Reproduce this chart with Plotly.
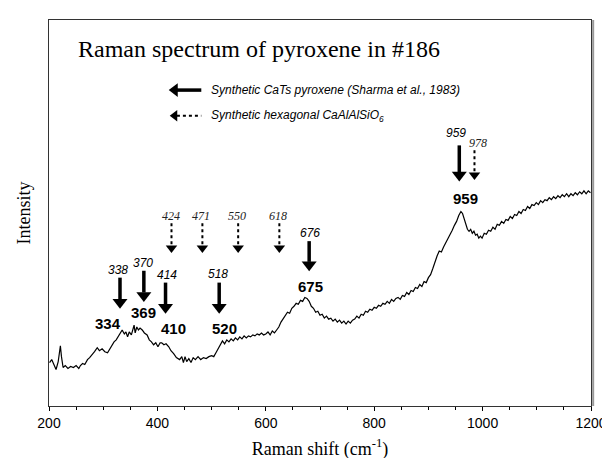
import plotly.graph_objects as go

# ---- spectrum (Raman shift cm-1, relative intensity), read in segments ----
shift_a = [201, 205, 209, 213, 217, 219, 221, 223, 226, 230, 235, 240, 245, 250, 255, 258, 262, 266, 271, 275,
           280, 284, 289, 293, 298, 303, 308, 312, 316, 320, 324, 328, 332, 335, 339, 342, 345, 348, 352, 355,
           357, 359, 362, 365, 368, 372, 376, 381, 385, 389, 393, 397, 401, 405, 408, 412, 416, 421, 425, 430,
           435, 441, 445, 448, 451, 454, 458, 462, 466, 470, 475, 480, 485, 490, 495]
int_a = [44, 47, 42, 37, 45, 52, 61, 50, 39, 41, 38, 40, 39, 41, 38, 41, 43, 42, 47, 49,
         52, 55, 59, 56, 58, 55, 54, 58, 62, 65, 67, 71, 74, 77, 73, 75, 70, 75, 72, 78,
         82, 74, 80, 77, 79, 77, 74, 72, 67, 65, 62, 64, 60, 64, 64, 62, 63, 60, 56, 53,
         49, 47, 50, 44, 50, 45, 48, 44, 49, 47, 50, 47, 49, 48, 50]

shift_b = [500, 504, 508, 512, 516, 520, 524, 528, 532, 536, 540, 544, 548, 552, 556, 560, 564, 568, 572, 576,
           580, 584, 588, 592, 596]
int_b = [51, 50, 54, 58, 62, 66, 63, 67, 65, 68, 66, 69, 67, 70, 68, 71, 69, 71, 70, 72,
         71, 73, 72, 74, 72]

shift_c = [600, 604, 608, 612, 616, 620, 624, 628, 632, 636, 640, 644, 648, 652, 656, 660, 664, 668, 672, 676,
           680, 684, 688, 692, 696, 700, 704, 708, 712, 716, 720, 724, 728, 732, 736, 740, 744, 748, 752, 756,
           760, 764, 768, 772, 776, 780, 784, 788, 792, 796, 800, 804, 808, 812, 816, 820, 824, 828, 832, 836,
           840, 844, 848, 852, 856, 860, 864, 868, 872, 876, 880, 884, 888, 892, 896]
int_c = [73, 75, 72, 76, 74, 77, 80, 85, 88, 92, 95, 94, 99, 101, 104, 103, 107, 106, 110, 109,
         106, 101, 99, 95, 96, 92, 93, 89, 91, 88, 89, 86, 88, 85, 87, 84, 86, 83, 86, 84,
         87, 88, 91, 89, 93, 92, 96, 95, 98, 97, 100, 99, 102, 101, 104, 103, 106, 104, 108, 106,
         109, 110, 108, 112, 111, 115, 113, 117, 116, 120, 119, 123, 121, 126, 125]

shift_d = [900, 904, 908, 912, 916, 920, 924, 928, 932, 936, 940, 944, 948, 952, 956, 960, 963, 966, 969, 972,
           975, 978, 981, 984, 987, 990, 993, 996, 999, 1003, 1007, 1011, 1015, 1019, 1023, 1027, 1031, 1035,
           1039, 1043, 1047, 1051, 1055, 1059, 1063, 1067, 1071, 1075, 1079, 1083, 1087, 1091, 1095, 1099,
           1103, 1107, 1111, 1115, 1119, 1123, 1127, 1131, 1135, 1139, 1143, 1147, 1151, 1155, 1159, 1163,
           1167, 1171, 1175, 1179, 1183, 1187, 1191, 1195, 1199]
int_d = [130, 133, 139, 146, 152, 157, 156, 161, 165, 169, 174, 178, 183, 187, 193, 197, 195, 189, 184, 179,
         177, 179, 175, 177, 173, 174, 170, 172, 170, 175, 174, 178, 177, 181, 179, 184, 183, 187,
         185, 189, 188, 192, 190, 194, 193, 197, 195, 199, 198, 202, 200, 204, 203, 206,
         204, 208, 206, 209, 208, 211, 209, 212, 210, 213, 211, 214, 212, 215, 212, 215,
         213, 216, 214, 217, 215, 218, 215, 218, 216]

shift = shift_a + shift_b + shift_c + shift_d
intensity = int_a + int_b + int_c + int_d

# ---- reference band assignments ----
cats_labels = ["338", "370", "414", "518", "676", "959"]          # Synthetic CaTs pyroxene
cats_pos = [331, 375, 415, 514, 680, 957]
cats_top = [130, 137, 125, 125, 167, 264]
cats_tip = [100, 107, 95, 95, 138, 229]
cats_lab_x = [327, 373, 418, 512, 682, 950]
cats_lab_y = [138, 145, 133, 134, 175, 277]

hex_labels = ["424", "471", "550", "618", "978"]                   # Synthetic hexagonal CaAlAlSiO6
hex_pos = [426, 483, 549, 625, 985]
hex_top = [185, 185, 185, 185, 259]
hex_tip = [156, 156, 156, 156, 230]
hex_lab_x = [425, 480, 547, 623, 991]
hex_lab_y = [192, 192, 192, 192, 266]

peak_labels = ["334", "369", "410", "520", "675", "959"]          # observed peaks
peak_x = [308, 375, 430, 523, 682, 968]
peak_y = [84, 95, 79, 79, 121, 210]

fig = go.Figure()

fig.add_trace(go.Scatter(x=shift, y=intensity, mode="lines",
                         line=dict(color="black", width=1.2), hoverinfo="skip"))

# solid arrows
for x, t, b in zip(cats_pos, cats_top, cats_tip):
    fig.add_trace(go.Scatter(x=[x, x], y=[t, b + 8], mode="lines",
                             line=dict(color="black", width=3.5)))
    fig.add_trace(go.Scatter(x=[x], y=[b + 5], mode="markers",
                             marker=dict(symbol="triangle-down", size=13, color="black")))
# dotted arrows
for x, t, b in zip(hex_pos, hex_top, hex_tip):
    fig.add_trace(go.Scatter(x=[x, x], y=[t, b + 6], mode="lines",
                             line=dict(color="black", width=2, dash="dot")))
    fig.add_trace(go.Scatter(x=[x], y=[b + 4], mode="markers",
                             marker=dict(symbol="triangle-down", size=10, color="black")))

# legend arrows
fig.add_trace(go.Scatter(x=[436, 481], y=[320, 320], mode="lines",
                         line=dict(color="black", width=3.5)))
fig.add_trace(go.Scatter(x=[432], y=[320], mode="markers",
                         marker=dict(symbol="triangle-left", size=12, color="black")))
fig.add_trace(go.Scatter(x=[436, 481], y=[294, 294], mode="lines",
                         line=dict(color="black", width=2, dash="dot")))
fig.add_trace(go.Scatter(x=[432], y=[294], mode="markers",
                         marker=dict(symbol="triangle-left", size=10, color="black")))

ann = []
for lab, x, y in zip(cats_labels, cats_lab_x, cats_lab_y):
    ann.append(dict(x=x, y=y, text=f"<i>{lab}</i>", showarrow=False,
                    font=dict(family="Liberation Sans, Arial", size=12, color="black")))
for lab, x, y in zip(hex_labels, hex_lab_x, hex_lab_y):
    ann.append(dict(x=x, y=y, text=f"<i>{lab}</i>", showarrow=False,
                    font=dict(family="Liberation Serif, Times New Roman", size=12, color="#222")))
for lab, x, y in zip(peak_labels, peak_x, peak_y):
    ann.append(dict(x=x, y=y, text=f"<b>{lab}</b>", showarrow=False,
                    font=dict(family="Liberation Sans, Arial", size=15, color="black")))

ann.append(dict(x=0.05, y=362, xref="paper", yref="y", xanchor="left", showarrow=False,
                text="Raman spectrum of pyroxene in #186",
                font=dict(family="Liberation Serif, Times New Roman", size=24, color="black")))
ann.append(dict(x=496, y=320, xanchor="left", showarrow=False,
                text="<i>Synthetic CaTs pyroxene (Sharma et al., 1983)</i>",
                font=dict(family="Liberation Sans, Arial", size=12, color="black")))
ann.append(dict(x=496, y=294, xanchor="left", showarrow=False,
                text="<i>Synthetic hexagonal CaAlAlSiO<sub>6</sub></i>",
                font=dict(family="Liberation Sans, Arial", size=12, color="black")))

fig.update_layout(
    width=610, height=458,
    margin=dict(l=41, r=21, t=11, b=56),
    paper_bgcolor="white", plot_bgcolor="white",
    showlegend=False,
    annotations=ann,
    shapes=[dict(type="line", xref="paper", yref="paper", x0=1.004, x1=1.004, y0=0, y1=1,
                 line=dict(color="#999", width=2))],
    xaxis=dict(range=[200, 1200], tickvals=[200, 400, 600, 800, 1000, 1200],
               ticks="outside", ticklen=4, tickcolor="black",
               minor=dict(dtick=50, ticks="outside", ticklen=3, tickcolor="black"),
               showline=True, linecolor="#333", linewidth=1, mirror=True,
               showgrid=False, zeroline=False,
               tickfont=dict(family="Liberation Sans, Arial", size=14, color="black"),
               title=dict(text="Raman shift (cm<sup>-1</sup>)", standoff=12,
                          font=dict(family="Liberation Serif, Times New Roman", size=18, color="black"))),
    yaxis=dict(range=[0, 391], showticklabels=False, ticks="",
               showline=True, linecolor="#333", linewidth=1, mirror=True,
               showgrid=False, zeroline=False,
               title=dict(text="Intensity", standoff=12,
                          font=dict(family="Liberation Serif, Times New Roman", size=18, color="black"))),
)

fig.write_html("out.html")
